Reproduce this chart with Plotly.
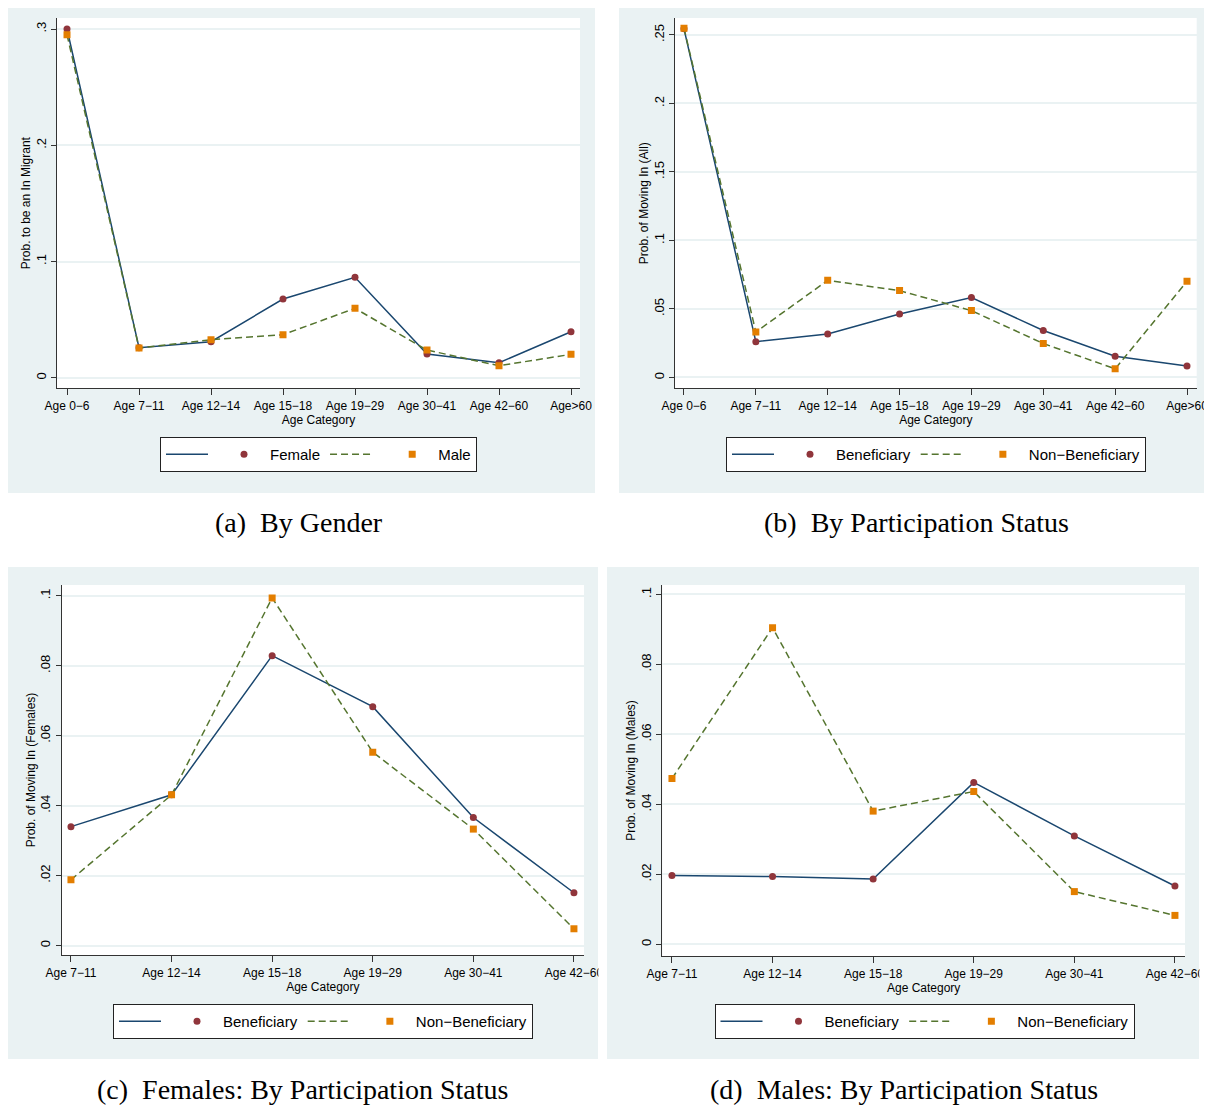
import plotly.graph_objects as go
from plotly.subplots import make_subplots

# age categories (Stata uses a real minus sign in the labels)
ages_all = ["Age 0−6", "Age 7−11", "Age 12−14", "Age 15−18",
            "Age 19−29", "Age 30−41", "Age 42−60", "Age>60"]
ages_sub = ["Age 7−11", "Age 12−14", "Age 15−18",
            "Age 19−29", "Age 30−41", "Age 42−60"]

# (a) by gender
female = [0.300, 0.0258, 0.0310, 0.0677, 0.0864, 0.0204, 0.0129, 0.0396]
male = [0.2951, 0.0256, 0.0327, 0.0370, 0.0597, 0.0238, 0.0103, 0.0201]

# (b) by participation status, all
ben_all = [0.2545, 0.0261, 0.0318, 0.0464, 0.0583, 0.0343, 0.0155, 0.0083]
nonben_all = [0.2550, 0.0332, 0.0709, 0.0634, 0.0488, 0.0248, 0.0063, 0.0702]

# (c) females
ben_fem = [0.0340, 0.0431, 0.0829, 0.0683, 0.0366, 0.0151]
nonben_fem = [0.0188, 0.0431, 0.0994, 0.0553, 0.0333, 0.0048]

# (d) males
ben_male = [0.0197, 0.0194, 0.0187, 0.0463, 0.0310, 0.0167]
nonben_male = [0.0474, 0.0905, 0.0381, 0.0437, 0.0151, 0.0083]

# the page body has an 8px margin, so the figure is 8px smaller and
# every page position below is shifted by that much
OFF = 8
W, H = 1212 - OFF, 1107 - OFF
NAVY, MAROON, GREEN, ORANGE = "#1A476F", "#90353B", "#55752F", "#E37E00"
BG = "#EAF2F3"
FONT = "Liberation Sans"

def px_x(v):
    return (v - OFF) / W

def px_y(v):
    return 1 - (v - OFF) / H

fig = make_subplots(rows=2, cols=2)

panels = [
    dict(r=1, c=1, leg="legend", cats=ages_all, s1=female, s2=male, names=("Female", "Male"),
         ytitle="Prob. to be an In Migrant", tv=[0, 0.1, 0.2, 0.3], tt=["0", ".1", ".2", ".3"],
         yr=[-0.0091, 0.3095], xr=[-0.139, 7.125], box=(57, 18, 580, 388.3)),
    dict(r=1, c=2, leg="legend2", cats=ages_all, s1=ben_all, s2=nonben_all,
         names=("Beneficiary", "Non−Beneficiary"),
         ytitle="Prob. of Moving In (All)", tv=[0, 0.05, 0.1, 0.15, 0.2, 0.25],
         tt=["0", ".05", ".1", ".15", ".2", ".25"],
         yr=[-0.0079, 0.2624], xr=[-0.125, 7.135], box=(675, 18, 1196.7, 388.3)),
    dict(r=2, c=1, leg="legend3", cats=ages_sub, s1=ben_fem, s2=nonben_fem,
         names=("Beneficiary", "Non−Beneficiary"),
         ytitle="Prob. of Moving In (Females)", tv=[0, 0.02, 0.04, 0.06, 0.08, 0.1],
         tt=["0", ".02", ".04", ".06", ".08", ".1"],
         yr=[-0.0027, 0.1031], xr=[-0.092, 5.1], box=(61.7, 585, 584, 955)),
    dict(r=2, c=2, leg="legend4", cats=ages_sub, s1=ben_male, s2=nonben_male,
         names=("Beneficiary", "Non−Beneficiary"),
         ytitle="Prob. of Moving In (Males)", tv=[0, 0.02, 0.04, 0.06, 0.08, 0.1],
         tt=["0", ".02", ".04", ".06", ".08", ".1"],
         yr=[-0.0033, 0.1027], xr=[-0.096, 5.1], box=(662.3, 585, 1185, 956)),
]

# grey-blue graph regions behind each panel
bgs = [(2, 0, 595, 493), (619, 0, 1212, 493), (6, 567, 598, 1059), (607, 567, 1199, 1059)]
for x0, y0, x1, y1 in bgs:
    fig.add_shape(type="rect", xref="paper", yref="paper", layer="below",
                  x0=px_x(x0), x1=px_x(x1), y0=px_y(y1), y1=px_y(y0),
                  fillcolor=BG, line_width=0)

legend_pos = [(318.5, 437), (936, 437), (323, 1004), (924.5, 1004)]

for i, p in enumerate(panels):
    l, t, r, b = p["box"]
    # white plot region
    fig.add_shape(type="rect", xref="paper", yref="paper", layer="below",
                  x0=px_x(l), x1=px_x(r), y0=px_y(b), y1=px_y(t),
                  fillcolor="white", line_width=0)
    n1, n2 = p["names"]
    fig.add_trace(go.Scatter(x=p["cats"], y=p["s1"], mode="lines", name="",
                             line=dict(color=NAVY, width=1.5), legend=p["leg"]),
                  row=p["r"], col=p["c"])
    fig.add_trace(go.Scatter(x=p["cats"], y=p["s1"], mode="markers", name=n1,
                             marker=dict(color=MAROON, size=7, symbol="circle"),
                             legend=p["leg"]), row=p["r"], col=p["c"])
    fig.add_trace(go.Scatter(x=p["cats"], y=p["s2"], mode="lines", name=" ",
                             line=dict(color=GREEN, width=1.5, dash="7px,4px"),
                             legend=p["leg"]), row=p["r"], col=p["c"])
    fig.add_trace(go.Scatter(x=p["cats"], y=p["s2"], mode="markers", name=n2,
                             marker=dict(color=ORANGE, size=7, symbol="square"),
                             legend=p["leg"]), row=p["r"], col=p["c"])

    ax = "" if i == 0 else str(i + 1)
    fig.layout["xaxis" + ax].update(
        domain=[px_x(l), px_x(r)], range=p["xr"], type="category",
        showline=True, linecolor="#333333", linewidth=1.3,
        ticks="outside", ticklen=6, tickcolor="#333333", showgrid=False,
        tickfont=dict(family=FONT, size=12, color="black"),
        title=dict(text="Age Category", standoff=2,
                   font=dict(family=FONT, size=12, color="black")))
    fig.layout["yaxis" + ax].update(
        domain=[px_y(b), px_y(t)], range=p["yr"],
        tickvals=p["tv"], ticktext=p["tt"], tickangle=-90,
        showline=True, linecolor="#333333", linewidth=1.3,
        ticks="outside", ticklen=5, tickcolor="#333333",
        showgrid=True, gridcolor=BG, gridwidth=1.5, zeroline=False,
        tickfont=dict(family=FONT, size=13, color="black"),
        title=dict(text=p["ytitle"], standoff=0,
                   font=dict(family=FONT, size=12, color="black")))

    lx, ly = legend_pos[i]
    fig.layout[p["leg"]] = dict(
        orientation="h", x=px_x(lx), y=px_y(ly), xanchor="center", yanchor="top",
        bgcolor="white", bordercolor="#222222", borderwidth=1,
        font=dict(family=FONT, size=15, color="black"), itemwidth=42,
        traceorder="normal")

# clip the last tick labels of the bottom panels at the graph edge
for x0, x1 in [(598.5, 606.5), (1199.5, 1212)]:
    fig.add_shape(type="rect", xref="paper", yref="paper", layer="above",
                  x0=px_x(x0), x1=px_x(x1), y0=px_y(985), y1=px_y(960),
                  fillcolor="white", line_width=0)

captions = [("(a)  By Gender", 298.5, 522), ("(b)  By Participation Status", 916, 522),
            ("(c)  Females: By Participation Status", 302.5, 1089),
            ("(d)  Males: By Participation Status", 903.5, 1089)]
for text, cx, cy in captions:
    fig.add_annotation(text=text, xref="paper", yref="paper", x=px_x(cx), y=px_y(cy),
                       showarrow=False, xanchor="center", yanchor="middle",
                       font=dict(family="Liberation Serif", size=28, color="black"))

fig.update_layout(width=W, height=H,
                  margin=dict(l=0, r=0, t=0, b=0, autoexpand=False),
                  paper_bgcolor="white", plot_bgcolor="rgba(0,0,0,0)",
                  showlegend=True)

fig.write_html("out.html")
